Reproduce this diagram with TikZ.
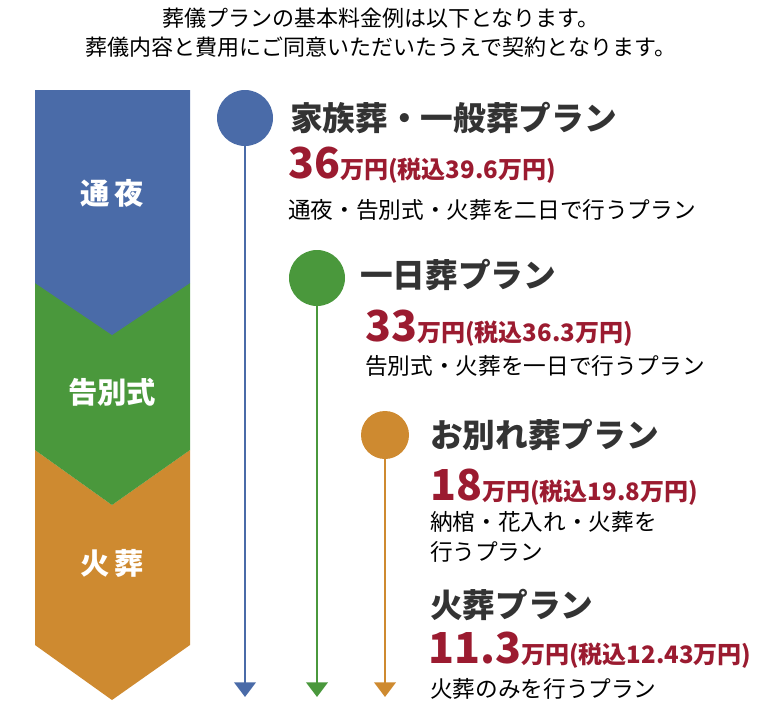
\documentclass[tikz,border=0pt]{standalone}
\usepackage{fontspec}
\setmainfont{Noto Sans CJK JP}
\usetikzlibrary{positioning,arrows.meta}
\definecolor{pblue}{HTML}{4A6BA8}
\definecolor{pgreen}{HTML}{4A983C}
\definecolor{porange}{HTML}{CE8A30}
\definecolor{pred}{HTML}{9B1B30}
\tikzset{
stage/.style={font=\bfseries\fontsize{22}{26}\selectfont, text=white},
dot/.style={circle, inner sep=0pt},
title/.style={anchor=west, inner sep=0pt, font=\bfseries\fontsize{24.5}{28}\selectfont, text=black!80},
price/.style={anchor=west, inner sep=0pt, text=pred, font=\bfseries\fontsize{18}{21}\selectfont},
desc/.style={anchor=west, inner sep=0pt, align=left, font=\fontsize{17}{22}\selectfont},
flow/.style={line width=2.2pt, -{Triangle[length=11pt,width=16pt]}}
}
\newcommand{\bignum}[1]{{\fontsize{32}{34}\selectfont #1}}
\begin{document}
\begin{tikzpicture}[x=0.75pt,y=-0.75pt]
\useasboundingbox (0,0) rectangle (762,710);

% header
\node[font=\fontsize{16.5}{22}\selectfont, align=center] (head) at (381,33)
  {葬儀プランの基本料金例は以下となります。\\葬儀内容と費用にご同意いただいたうえで契約となります。};

% stages
\fill[porange] (35,450) -- (112,505) -- (190,450) -- (190,645) -- (112,700) -- (35,645) -- cycle;
\fill[pgreen] (35,283) -- (190,283) -- (190,450) -- (112,505) -- (35,450) -- cycle;
\fill[pblue] (35,90) -- (190,90) -- (190,283) -- (112,335) -- (35,283) -- cycle;
\node[stage] (s1) at (112,193) {通\,夜};
\node[stage] (s2) at (112,392) {告別式};
\node[stage] (s3) at (112,563) {火\,葬};

% timelines
\node[dot, fill=pblue, minimum size=42pt] (c1) at (245,118) {};
\node[dot, fill=pgreen, minimum size=42pt] (c2) at (317,278) {};
\node[dot, fill=porange, minimum size=36pt] (c3) at (385,435) {};
\coordinate (e1) at (245,697);
\coordinate (e2) at (317,697);
\coordinate (e3) at (385,697);
\draw[flow, pblue] (c1) -- (e1);
\draw[flow, pgreen] (c2) -- (e2);
\draw[flow, porange] (c3) -- (e3);

% plans
\node[title] (t1) at (290,118) {家族葬・一般葬プラン};
\node[price] (p1) at (288,165) {\bignum{36}万円(税込39.6万円)};
\node[desc] (d1) at (288,210) {通夜・告別式・火葬を二日で行うプラン};

\node[title] (t2) at (360,275) {一日葬プラン};
\node[price] (p2) at (365,328) {\bignum{33}万円(税込36.3万円)};
\node[desc] (d2) at (365,366) {告別式・火葬を一日で行うプラン};

\node[title] (t3) at (430,435) {お別れ葬プラン};
\node[price] (p3) at (430,487) {\bignum{18}万円(税込19.8万円)};
\node[desc] (d3) at (430,537) {納棺・花入れ・火葬を\\行うプラン};

\node[title] (t4) at (430,605) {火葬プラン};
\node[price] (p4) at (428,650) {\bignum{11.3}万円(税込12.43万円)};
\node[desc] (d4) at (430,689) {火葬のみを行うプラン};
\end{tikzpicture}
\end{document}
